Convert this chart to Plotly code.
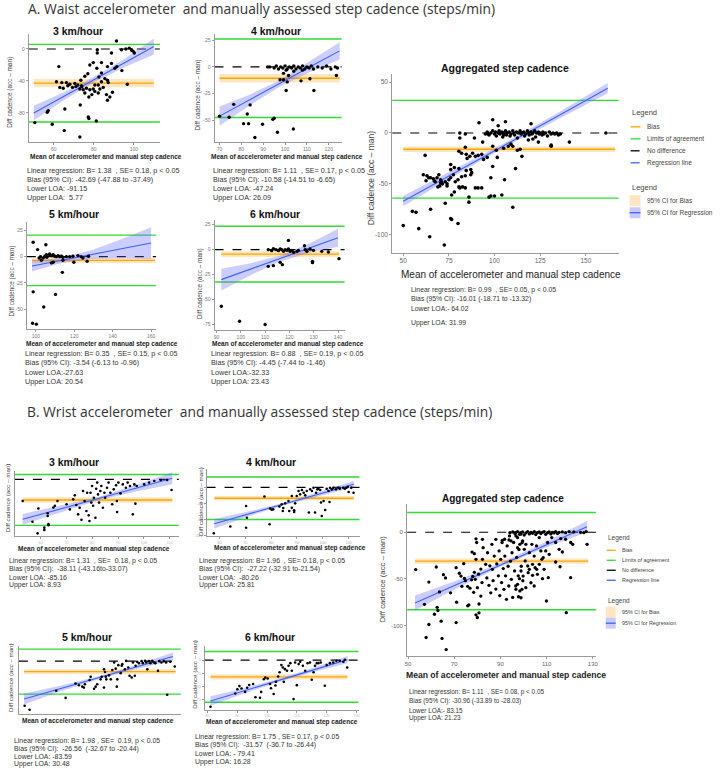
import plotly.graph_objects as go

# ===================== DATA =====================
# ---- A. Waist, 3 km/hour ----
a3_points = [(91.3, 10), (97.7, 1), (98.8, -1), (99.7, -3), (100.2, -5), (96, 0), (93.8, -1), (88.8, -5), (81.7, -1), (81.7, -5),
             (79.7, -17), (83.8, -17), (81.5, -24), (83.8, -30), (86.8, -22), (90.5, -24), (91.5, -22), (94, -27), (62.5, -22), (77, -31),
             (75.5, -34), (73.5, -39), (70.5, -43), (72, -45), (69.3, -48), (67, -46), (64.7, -49), (63, -48), (61.3, -41), (64, -42),
             (66.3, -42), (73.8, -46), (73, -50), (74.7, -51), (76.3, -49), (78, -51), (79.7, -50), (80.5, -53), (82.2, -55), (83, -50),
             (84.7, -48), (82.2, -45), (83.8, -41), (86.8, -39), (87.2, -42), (79, -57), (77.5, -60), (75.5, -55), (80.5, -45), (82.5, -35),
             (85.5, -37), (86.3, -57), (88, -60), (86.8, -64), (89.3, -54), (96.7, -44), (73.2, -70), (65.5, -75), (57.2, -77), (56.7, -79),
             (77.2, -85), (77.5, -87), (81.2, -90), (50.5, -92), (59.2, -94), (65.2, -102), (73, -110), (88.8, -18), (78, -20), (99, -2),
             (71, -47), (74, -47), (68, -44)]
a3_bias = -42.69
a3_bias_ci = [-47.88, -37.49]
a3_loa = [-91.15, 5.77]
a3_bias_span = [50, 110]
a3_reg_x = [50, 65, 80, 95, 110]
a3_reg_y = [-80, -59, -38.5, -18, 3]
a3_reg_lo = [-89, -64, -42, -23, -7]
a3_reg_hi = [-71, -54, -35, -13, 13]
a3_stats = ["Linear regression: B= 1.38  , SE= 0.18, p < 0.05", "Bias (95% CI): -42.69 (-47.88 to -37.49)",
            "Lower LOA: -91.15", "Upper LOA:  5.77"]

# ---- A. Waist, 4 km/hour ----
a4_points = [(93, 0), (95, -1), (96, 1), (97, -2), (98, 0), (99, -1), (100, 1), (101, -2), (102, 0), (103, -1), (104, 1), (105, -2),
             (106, 0), (107, -1), (108, 1), (109, -2), (110, 0), (111, -1), (112, 1), (113, -2), (115, 0), (117, -1), (119, 1), (121, -2),
             (123, 0), (124, -1), (100.5, -3), (104, -4), (108, -3), (92, 0),
             (99.3, -6), (101.6, -8), (97.7, -12), (99.3, -12), (101, -14), (107.3, -13), (111.4, -11), (123.5, -8), (100.5, -22),
             (113.2, -22), (84, -35.5), (95, -48), (94.4, -49), (89.7, -53.6), (96.5, -61), (103.8, -58), (86.2, -66), (70, -46),
             (74.4, -47), (76.5, -35), (82.7, -44), (81, -53), (83.3, -53)]
a4_bias = -10.58
a4_bias_ci = [-14.51, -6.65]
a4_loa = [-47.24, 26.09]
a4_bias_span = [70, 125]
a4_reg_x = [70, 83.75, 97.5, 111.25, 125]
a4_reg_y = [-46, -31, -15.5, 0, 15]
a4_reg_lo = [-55, -36, -18.5, -5, 7]
a4_reg_hi = [-37, -26, -12.5, 5, 23]
a4_stats = ["Linear regression: B= 1.11  , SE= 0.17, p < 0.05", "Bias (95% CI): -10.58 (-14.51 to -6.65)",
            "Lower LOA: -47.24", "Upper LOA: 26.09"]

# ---- A. Waist, aggregated ----
aagg_points = [(50, -91), (55, -77), (57, -78), (58.5, -94), (64.5, -102), (65, -75), (72.5, -110), (73, -69), (76, -84), (76.5, -85),
               (80, -89), (86, -68), (86, -63), (97, -63), (98, -62), (100, -62), (104, -61), (110, -73),
               (61, -41), (63, -42), (64, -44), (65, -44), (66.5, -45), (62.5, -47), (67, -47), (68.5, -44), (69.5, -41), (70.5, -46),
               (71, -48), (70.5, -49), (71.5, -50), (73, -48), (74, -50), (75, -46), (74, -52), (70, -52), (69, -53), (67.5, -48),
               (76, -44), (77.5, -41), (76, -36), (78, -34), (76, -31), (80.5, -35), (78.5, -48), (80.5, -53), (81, -54), (82.5, -53),
               (84, -54), (80, -46), (82, -43), (84, -42), (84.5, -37), (87, -36), (87.5, -39), (87, -41), (89.5, -54), (91, -54),
               (93, -54), (76.5, -61), (78, -58), (62, -22),
               (80.5, -18), (82, -20), (84, -14), (84.5, -21), (85, -25), (86.5, -23), (88, -20), (89.5, -23), (91, -22), (93, -21),
               (94, -26), (96, -24), (98, -44), (99, -33), (101.5, -24), (105.5, -46), (111.5, -35), (115, -23), (114, -16), (112.5, -17),
               (110, -13), (109, -11), (107.5, -13), (105, -15), (101, -17), (99, -13), (131, -12), (131, -13), (141, -9), (124, -9),
               (121, -6), (118.5, -7),
               (81, 0), (81, -5), (89, -5), (91.5, 10), (99, 13), (102, 7), (106, 11), (120, 9), (93.5, -9), (96.5, -1), (105, -2), (84, -1),
               (95, -1), (96, 1), (97, -2), (98, 0), (99, 2), (100, -1), (100.5, 1), (101, -3), (102, 0), (102.5, 2), (103, -1), (104, 1),
               (104.5, -4), (105, 0), (106, 2), (106.5, -2), (107, 0), (108, 1), (108.5, -3), (109, -1), (110, 2), (110.5, 0), (111, -2),
               (112, 1), (112.5, -5), (113, 0), (114, 2), (114.5, -1), (115, 0), (116, 1), (116.5, -3), (117, -1), (118, 2), (118.5, 0),
               (119, -2), (120, 1), (120.5, -1), (121, 0), (122, 2), (122.5, -4), (123, 0), (124, 1), (124.5, -1), (125, 0), (126, -2),
               (126.5, 1), (127, -1), (128, 0), (129, -3), (130, 1), (131, -1), (132, 0), (133, -1), (134, 0), (135, -2), (136, -1), (161, 0)]
aagg_bias = -16.01
aagg_bias_ci = [-18.71, -13.32]
aagg_loa = [-64.02, 31.99]
aagg_bias_span = [50, 166]
aagg_reg_x = [50, 78, 106, 134, 162]
aagg_reg_y = [-67, -39, -11.5, 16, 44]
aagg_reg_lo = [-72, -42, -13.5, 13, 39]
aagg_reg_hi = [-62, -36, -9.5, 19, 49]
aagg_stats = ["Linear regression: B= 0.99  , SE= 0.05, p < 0.05", "Bias (95% CI): -16.01 (-18.71 to -13.32)",
              "Lower LOA:- 64.02", "Upper LOA: 31.99"]

# ---- A. Waist, 5 km/hour ----
a5_points = [(98.6, 13.7), (100.9, 6.7), (105.2, 11.4), (102.4, 0), (103.8, -1.3), (104.7, 0.3), (105.5, 1.9), (106.4, 1), (107.2, 2.5),
             (108.1, 1), (109, 1.9), (109.8, 0.3), (110.7, 0), (111.6, 1), (112.4, 0), (113.3, 0.3), (114.1, -0.6), (115.9, 0), (117.6, 0),
             (119.3, 0.3), (121.9, 1), (123.6, 0), (124.5, -1.3), (127.4, 0.3), (126.7, -4.4), (102.9, -3.5), (108.1, -6), (114.1, -3.5),
             (113.8, -15), (119.8, -5.4), (109, -5.4), (98.6, -33.6), (110.2, -36), (104.1, -48), (98.3, -63.5), (100.3, -64.4),
             (101.7, -1.3), (105.7, -0.6)]
a5_bias = -3.54
a5_bias_ci = [-6.13, -0.96]
a5_loa = [-27.63, 20.54]
a5_bias_span = [98, 162]
a5_reg_x = [98, 113.5, 129, 144.5, 160]
a5_reg_y = [-9, -3.5, 2, 7.5, 13]
a5_reg_lo = [-14, -6, -2, -1.5, -2]
a5_reg_hi = [-4, -1, 6, 16.5, 28]
a5_stats = ["Linear regression: B= 0.35  , SE= 0.15, p < 0.05", "Bias (95% CI): -3.54 (-6.13 to -0.96)",
            "Lower LOA:-27.63", "Upper LOA: 20.54"]

# ---- A. Waist, 6 km/hour ----
a6_points = [(92, -56.7), (99.5, -71.7), (111.3, 0), (112.7, -1), (113.4, 1), (114.5, 0), (115.5, -1), (116.2, 0.7), (116.9, 0),
             (117.6, -1.7), (118.3, 0), (119, -0.7), (119.6, 0.7), (120.3, -1.7), (121, -0.7), (121.7, -2.7), (123.1, -1.7), (123.7, -0.7),
             (126.5, 0), (127.2, -1.7), (128.5, 0.7), (129.9, -0.7), (133.3, -1.7), (136, -2.3), (119.6, 9.3), (126.2, 4), (111.3, -16.7),
             (113.4, -16), (116.2, -12.7), (117.1, -15), (129.5, -11.7), (129.5, -13), (140.4, -9), (110, -75)]
a6_bias = -4.45
a6_bias_ci = [-7.44, -1.46]
a6_loa = [-32.33, 23.43]
a6_bias_span = [92, 140.5]
a6_reg_x = [92, 104, 116, 128, 140]
a6_reg_y = [-30, -19.5, -9, 1.5, 12]
a6_reg_lo = [-41, -25.5, -12, -3, 3]
a6_reg_hi = [-19, -13.5, -6, 6, 21]
a6_stats = ["Linear regression: B= 0.88  , SE= 0.19, p < 0.05", "Bias (95% CI): -4.45 (-7.44 to -1.46)",
            "Lower LOA:-32.33", "Upper LOA: 23.43"]

# ---- B. Wrist, 3 km/hour ----
b3_points = [(53, -40), (56.8, -78.4), (58.8, -100), (59.1, -54), (61.4, -89.5), (61.4, -93.8), (63, -83), (63, -85), (62.7, -68),
             (62.7, -63), (64.9, -52), (65.5, -49), (66.5, -40), (70, -46), (71.3, -55.6), (72.6, -37), (73.2, -29.6), (73.8, -47.5),
             (74.5, -64.8), (75.1, -52.5), (75.8, -75), (76.4, -21.6), (77, -40), (77.7, -58.6), (78, -24.7), (78.6, -66.7), (78.9, -77),
             (79.3, -24.7), (79.6, -43), (79.9, -12.3), (80.3, -49), (80.6, -34), (81.2, -71), (81.5, -17.3), (81.9, -6), (82.2, -27.8),
             (82.6, -43), (83.1, -21.6), (83.5, -12.3), (84.1, -52.5), (84.7, -24.7), (85, -34), (85.7, -15.4), (86.3, -6), (87, -24.7),
             (87.7, -46), (88.3, -18.5), (89.2, -11), (89.5, -40), (89.6, -60.5), (90.1, -6), (90.9, -25.9), (91.8, -9.3), (93, -15.4),
             (93.7, -6), (94.6, -12.3), (95.7, -64.8), (96.3, -9.3), (96.7, -45), (97.2, -12.3), (100.1, -9.3), (102, -6), (104, -3),
             (106.5, -1.2), (109, -1.2), (110.7, -19.8)]
b3_bias = -38.11
b3_bias_ci = [-43.16, -33.07]
b3_loa = [-85.16, 8.93]
b3_bias_span = [53, 111]
b3_reg_x = [53, 67.5, 82, 96.5, 111]
b3_reg_y = [-74, -55, -36, -17, 2]
b3_reg_lo = [-84, -61, -39, -23, -9]
b3_reg_hi = [-64, -49, -33, -11, 13]
b3_stats = ["Linear regression: B= 1.31  , SE=  0.18, p < 0.05", "Bias (95% CI):  -38.11 (-43.16to-33.07)",
            "Lower LOA: -85.16", "Upper LOA: 8.93"]

# ---- B. Wrist, 4 km/hour ----
b4_points = [(57.8, -115), (64.2, -98), (70.3, -46.7), (70.3, -101), (70.6, -76), (79.4, -92.5), (77.4, -23), (79.6, -53), (80.2, -56),
             (80.8, -55), (83.2, -48), (84.1, -42.5), (84.5, -59), (84.7, -51.7), (85.4, -40), (86.7, -34), (87, -59), (88, -51),
             (88, -21.7), (88.9, -57.5), (88.9, -61.7), (89.3, -40), (89.9, -21.7), (90.6, -9), (91.2, -17.5), (91.9, -6.7), (92.6, -13.3),
             (93.2, -20), (93.8, -9), (94.6, -63), (95.1, -5), (95.8, -9), (96.4, -0.8), (97, -63), (97.4, -13.3), (97.9, -5), (98.3, -3.3),
             (99, -6.7), (99.6, -71.7), (99.3, -38), (100.3, -34), (100.9, -56.7), (101.5, -3.3), (102.2, -9), (102.6, -36.7), (102.8, -0.8),
             (103.5, -5), (104.1, -0.8), (105.1, -5), (106, -0.8), (106.6, -3.3), (107.9, -0.8), (108.5, -3.3), (109.1, -0.8), (109.7, 1.7),
             (110, -11.7), (111, -0.8), (111.9, -13.3)]
b4_bias = -27.22
b4_bias_ci = [-32.91, -21.54]
b4_loa = [-80.26, 25.81]
b4_bias_span = [58, 112]
b4_reg_x = [58, 71.5, 85, 98.5, 112]
b4_reg_y = [-91, -66, -41.5, -17, 8]
b4_reg_lo = [-103, -72, -44.5, -22, 0]
b4_reg_hi = [-79, -60, -38.5, -12, 16]
b4_stats = ["Linear regression: B= 1.96  , SE= 0.18, p < 0.05", "Bias (95% CI):  -27.22 (-32.91 to-21.54)",
            "Lower LOA:  -80.26", "Upper LOA: 25.81"]

# ---- B. Wrist, aggregated ----
bagg_points = [(53.3, -40), (59, -53.5), (57.1, -77.4), (57.8, -113), (59, -99), (61.4, -88), (62.6, -80.6), (62.9, -84), (63.6, -64),
               (62.2, -37.3), (64.3, -95.4), (64.7, -114), (65.3, -45.5), (66.5, -126), (66.2, -49), (68.4, -65), (70.8, -38), (70.8, -97),
               (71, -75), (72.2, -44), (72.9, -47), (73.3, -58), (74.1, -33.7), (74.4, -49.5), (74.8, -52), (75.8, -79), (76.3, -78),
               (75.8, -58), (76.8, -60), (77.5, -51), (78, -47.5), (78.4, -64.5), (78.7, -43), (79.1, -50.5), (79.4, -29), (79.7, -11),
               (79.4, -7), (78.7, -23), (77.7, -21.3), (79.4, -88.6), (80, -91.5), (80.7, -77), (80.7, -86.5), (80, -59.5), (80.5, -45),
               (81.5, -39.5), (81.5, -68.5), (82, -54), (82.2, -29), (82.5, -16.5), (82.2, -7.6),
               (83.6, -34.4), (84.1, -49), (84.4, -22), (85, -57), (85.4, -36), (85.8, -65), (86.3, -12.9), (86.5, -39.8), (86.8, -52),
               (87.3, -25.5), (88, -61), (88, -7.6), (88.4, -34), (89.1, -46.8), (89.4, -20), (89.7, -68), (90.1, -29), (90.5, -54),
               (90.8, -8.6), (91.2, -39), (91.5, -61.3), (91.9, -25.5), (92.2, -46.8), (92.6, -72), (92.9, -14.7), (93.3, -36.5),
               (93.6, -57.7), (93.9, -3.9), (94.3, -31), (94.7, -50.5), (95, -22), (95.3, -70), (95.7, -11), (96.1, -41.5), (96.4, -0.4),
               (96.6, -57.7), (97, -27), (97.4, -5.7), (97.7, -46.8), (98, -18.5), (98.4, -63), (98.8, -2), (99, -36.5), (99.4, -11),
               (99.7, -52),
               (94.1, -0.4), (95.3, 0.4), (96.3, -1.4), (97.4, 0.8), (98.2, -2.2), (98.9, -0.4), (99.6, 0.4), (100.3, -2.9), (101, -0.7),
               (101.8, 0.8), (102.5, -1.8), (103.2, 0), (103.9, -1.1), (104.6, 0.8), (105.3, -2.5), (106, -0.4), (106.8, 0.4), (107.5, -1.4),
               (108.2, 0), (108.9, 0.8), (109.6, -2.2), (110.4, -0.4), (111.1, 0.4), (111.8, -1.8), (112.5, 0), (113.2, -0.7), (113.9, 0.8),
               (114.7, -1.4), (115.4, 0), (116.8, 0.4), (118.2, -0.4), (119.7, 0.8), (121.8, 0.4), (124.7, 0), (126.1, -0.4), (127.1, 0.8),
               (90.7, -11), (91.8, -7.5), (93.7, -8.2), (94.6, -9.3), (96.7, -3.9), (97.4, -16.5), (98.4, -12.9), (99.6, -9.3), (100.3, -18.3),
               (101, -12.9), (102.5, -21.9), (103.6, -12.9), (104.6, -25.5), (105.6, -14.7), (106.8, -5.7), (107.5, -20), (108.5, -27.2),
               (109.6, -20), (110.4, -11), (111.1, -23.7), (112.2, -5.7), (113.9, -11), (115.4, -18.3), (116.1, -6.8), (116.8, -21.2),
               (118.2, -7.5), (120.4, -11), (121.3, -12.9), (127.5, -12.9), (109.9, -73.8), (110.7, -48.7), (113.9, -31.9), (115.8, -37),
               (118.5, -86.3), (120.4, -48.7), (108.2, -49.8), (106, -45.2), (105, -38), (103.9, -34.4), (102.5, -39.8), (101.8, -36.2),
               (100.7, -30.8), (99.8, -47), (98.9, -41.6), (98.2, -49.8), (97.4, -55.9), (96.7, -61.3), (97.8, -69.2), (98.9, -70.3),
               (99.3, -61.3), (101, -59.5), (103.2, -54.2), (104.6, -57.7), (105.7, -39.8), (106.8, -34.4), (107.9, -29), (108.9, -39.8),
               (103.9, -46.2), (102, -43.4)]
bagg_bias = -30.96
bagg_bias_ci = [-33.89, -28.03]
bagg_loa = [-83.15, 21.23]
bagg_bias_span = [53, 128]
bagg_reg_x = [53, 71.5, 90, 108.5, 127.5]
bagg_reg_y = [-76, -55.5, -35, -14.5, 6]
bagg_reg_lo = [-84, -59.5, -37, -17.5, 0]
bagg_reg_hi = [-68, -51.5, -33, -11.5, 12]
bagg_stats = ["Linear regression: B= 1.11  , SE= 0.08, p < 0.05", "Bias (95% CI): -30.96 (-33.89 to -28.03)",
              "Lower LOA:- 83.15", "Upper LOA: 21.23"]

# ---- B. Wrist, 5 km/hour ----
b5_points = [(52.2, -113), (54.1, -123), (67.9, -93), (64.3, -75), (71.7, -56.5), (73, -61), (74.3, -64.5), (75.3, -58.6), (74.9, -67),
             (77.5, -39.3), (77.1, -47.7), (78.8, -70), (79.4, -64.5), (80, -58.6), (81.3, -46), (81.7, -39.3), (82.6, -20.7), (83, -27.4),
             (83.3, -39.3), (83.5, -46), (82.6, -67), (84.5, -35.9), (85.2, -46), (85.8, -22.4), (86.5, -3.4), (87.1, -18.9), (87.5, -64.5),
             (88.1, -10.1), (89, -30.4), (89.6, -7.6), (90.6, -20.7), (91.1, 0.8), (91.9, -16), (92.4, -37.1), (93.2, -41.3), (93.7, -3.4),
             (94.4, -37.1), (94.7, -11.8), (95.3, -1.7), (96, -5), (97, 0), (97.5, -5), (98.3, 0.8), (98.8, -3.4), (99.2, -20.7), (99.8, 0),
             (100.4, -5), (101.1, 0.8), (101.7, -3.4), (102.3, -5), (103.3, -24.5), (103.8, 0), (104.6, -3.4), (105.5, 0), (106.4, -3.4),
             (106.8, -85), (108, -1.7), (109.7, -13.5), (89.4, -11.8), (87.7, -46)]
b5_bias = -26.56
b5_bias_ci = [-32.67, -20.44]
b5_loa = [-83.59, 30.48]
b5_bias_span = [52, 110]
b5_reg_x = [52, 66, 80.5, 95, 109]
b5_reg_y = [-96, -69, -42, -15, 12]
b5_reg_lo = [-110, -76, -46, -20, 2]
b5_reg_hi = [-82, -62, -38, -10, 22]
b5_stats = ["Linear regression: B= 1.98 , SE=  0.19, p < 0.05", "Bias (95% CI):  -26.56  (-32.67 to -20.44)",
            "Lower LOA: -83.59", "Upper LOA: 30.48"]

# ---- B. Wrist, 6 km/hour ----
b6_points = [(81, -88), (89.3, -63), (90, -55), (90.7, -49), (91.4, -53.5), (92.6, -60), (93.3, -52), (94, -47), (95.3, -45), (96.1, -70),
             (97.6, -71), (98, -60), (98.9, -36), (99.4, -33), (100.2, -34.6), (101, -45), (101.3, -53), (102.2, -64), (103, -41),
             (103.7, -31), (104.2, -23), (104.8, -9.4), (105.3, -13.8), (106, -17), (106.7, -20), (107.2, -10.7), (107.8, -5.7), (108.3, -20),
             (108.9, -73.6), (109.4, -4.4), (110, -47.2), (110.6, -7.5), (111.1, -3.1), (112, -10.7), (112.8, -20), (113.6, -5.7),
             (114.4, -4.4), (115, -37), (115.6, -23), (116.1, -10.7), (116.7, -5.7), (117.2, -5.7), (118, -4.4), (119.4, -48.4), (120, -9.4),
             (121.1, -5.7), (122.2, -4.4), (123.3, -1.3), (124.4, -1.3), (125.6, -3.1), (126.1, 0.6), (126.9, -13.8), (105.6, -41), (102.8, -48)]
b6_bias = -31.57
b6_bias_ci = [-36.7, -26.44]
b6_loa = [-79.41, 16.28]
b6_bias_span = [81, 127]
b6_reg_x = [81, 92.5, 104, 115.5, 127]
b6_reg_y = [-77, -57.5, -38, -18.5, 1]
b6_reg_lo = [-86, -62.5, -41, -22.5, -6]
b6_reg_hi = [-68, -52.5, -35, -14.5, 8]
b6_stats = ["Linear regression: B= 1.75 , SE= 0.17, p < 0.05", "Bias (95% CI):  -31.57  (-36.7 to -26.44)",
            "Lower LOA: - 79.41", "Upper LOA: 16.28"]

panel_titles = {"a3": "3 km/hour", "a4": "4 km/hour", "aagg": "Aggregated step cadence", "a5": "5 km/hour", "a6": "6 km/hour",
                "b3": "3 km/hour", "b4": "4 km/hour", "bagg": "Aggregated step cadence", "b5": "5 km/hour", "b6": "6 km/hour"}
title_a = "A. Waist accelerometer  and manually assessed step cadence (steps/min)"
title_b = "B. Wrist accelerometer  and manually assessed step cadence (steps/min)"
x_title = "Mean of accelerometer and manual step cadence"
y_title = "Diff cadence (acc \u2013 man)"
legend_lines = ["Bias", "Limits of agreement", "No difference", "Regression line"]
legend_fills = ["95% CI for Bias", "95% CI for Regression"]

data = {
    "a3": (a3_points, a3_bias, a3_bias_ci, a3_loa, a3_bias_span, a3_reg_x, a3_reg_y, a3_reg_lo, a3_reg_hi, a3_stats),
    "a4": (a4_points, a4_bias, a4_bias_ci, a4_loa, a4_bias_span, a4_reg_x, a4_reg_y, a4_reg_lo, a4_reg_hi, a4_stats),
    "aagg": (aagg_points, aagg_bias, aagg_bias_ci, aagg_loa, aagg_bias_span, aagg_reg_x, aagg_reg_y, aagg_reg_lo, aagg_reg_hi, aagg_stats),
    "a5": (a5_points, a5_bias, a5_bias_ci, a5_loa, a5_bias_span, a5_reg_x, a5_reg_y, a5_reg_lo, a5_reg_hi, a5_stats),
    "a6": (a6_points, a6_bias, a6_bias_ci, a6_loa, a6_bias_span, a6_reg_x, a6_reg_y, a6_reg_lo, a6_reg_hi, a6_stats),
    "b3": (b3_points, b3_bias, b3_bias_ci, b3_loa, b3_bias_span, b3_reg_x, b3_reg_y, b3_reg_lo, b3_reg_hi, b3_stats),
    "b4": (b4_points, b4_bias, b4_bias_ci, b4_loa, b4_bias_span, b4_reg_x, b4_reg_y, b4_reg_lo, b4_reg_hi, b4_stats),
    "bagg": (bagg_points, bagg_bias, bagg_bias_ci, bagg_loa, bagg_bias_span, bagg_reg_x, bagg_reg_y, bagg_reg_lo, bagg_reg_hi, bagg_stats),
    "b5": (b5_points, b5_bias, b5_bias_ci, b5_loa, b5_bias_span, b5_reg_x, b5_reg_y, b5_reg_lo, b5_reg_hi, b5_stats),
    "b6": (b6_points, b6_bias, b6_bias_ci, b6_loa, b6_bias_span, b6_reg_x, b6_reg_y, b6_reg_lo, b6_reg_hi, b6_stats),
}

# ===================== LAYOUT / STYLE =====================
W, H = 720, 770
FONT = "Liberation Sans, Arial, sans-serif"
TITLE_FONT = "Open Sans, Liberation Sans, Arial, sans-serif"
GREEN = "#2fdc2f"
ORANGE = "#ffa500"
ORANGE_BAND = "rgba(255,190,90,0.38)"
BLUE = "#3366ff"
BLUE_BAND = "rgba(100,100,255,0.33)"


def fx(p):
    return p / W


def fy(p):
    return 1 - p / H


# dom = (left, right, top, bottom) in pixels
layout_spec = {
    "a3": dict(dom=(27, 159, 34, 142), xr=(47.5, 113), yr=(-116, 18.75), xt=[60, 80, 100], yt=[0, -40, -80],
               tfs=5, tcol="#777", ms=3.4, title=(77, 31, 10.5), xtitle=(105, 157, 6.5, True), ytitle=(8, 92, 6.4),
               stats=(23, [171, 180, 189, 198], 7.2)),
    "a4": dict(dom=(214, 342, 34, 142), xr=(67.7, 125.9), yr=(-70, 30.8), xt=[70, 80, 90, 100, 110, 120], yt=[25, 0, -25, -50],
               tfs=5, tcol="#777", ms=3.4, title=(276, 31, 10.5), xtitle=(287, 157, 6.5, True), ytitle=(197, 95, 6.4),
               stats=(210, [171, 180, 189, 198], 7.2)),
    "aagg": dict(dom=(393, 621, 74, 253), xr=(44, 168), yr=(-117.6, 58), xt=[50, 75, 100, 125, 150], yt=[-100, -50, 0, 50],
                 tfs=6.5, tcol="#666", ms=3.6, title=(507, 68, 10.5), xtitle=(513, 275, 10, False), ytitle=(371, 178, 8.5),
                 stats=(410, [290, 299, 309, 323], 6.85)),
    "a5": dict(dom=(25, 155, 222, 329), xr=(95.3, 162.5), yr=(-68.6, 33.3), xt=[100, 120, 140, 160], yt=[25, 0, -25, -50],
               tfs=5, tcol="#777", ms=3.4, title=(73, 214, 10.5), xtitle=(101, 344, 6.5, True), ytitle=(10, 281, 6.4),
               stats=(21, [354, 363, 373, 382], 7.2)),
    "a6": dict(dom=(214, 345, 220, 330), xr=(89.2, 142.7), yr=(-80, 30), xt=[90, 100, 110, 120, 130, 140], yt=[25, 0, -25, -50, -75],
               tfs=5, tcol="#777", ms=3.4, title=(275, 214, 10.5), xtitle=(288, 344, 6.5, True), ytitle=(199, 284, 6.4),
               stats=(208, [354, 363, 373, 382], 7.2)),
    "b3": dict(dom=(13, 178, 472, 537), xr=(50, 113.5), yr=(-105.5, 14.8), xt=[60, 70, 80, 90, 100, 110], yt=[],
               tfs=4, tcol="#bbb", ms=2.6, title=(73, 463, 10.5), xtitle=(93, 550, 6.5, True), ytitle=(5, 498, 6.2),
               stats=(5, [562, 570, 578, 586], 6.9)),
    "b4": dict(dom=(206, 360, 470, 537), xr=(55, 114.2), yr=(-122.5, 45), xt=[60, 70, 80, 90, 100, 110], yt=[0, -40, -80, -120],
               tfs=4, tcol="#aaa", ms=2.6, title=(271, 463, 10.5), xtitle=(290, 549, 6.5, True), ytitle=(200, 502, 6.2),
               stats=(196, [562, 570, 578, 586], 6.9)),
    "bagg": dict(dom=(408, 598, 505, 657), xr=(49.6, 131.3), yr=(-133, 30), xt=[50, 70, 90, 110, 130], yt=[0, -50, -100],
                 tfs=6, tcol="#666", ms=3.3, title=(505, 499, 10), xtitle=(508, 676, 8.6, True), ytitle=(383, 580, 7.8),
                 stats=(408, [693, 702, 711, 719], 6.4)),
    "b5": dict(dom=(17, 180, 647, 715), xr=(50, 112), yr=(-134, 38), xt=[], yt=[],
               tfs=4, tcol="#bbb", ms=2.6, title=(86, 638, 10.5), xtitle=(97, 722, 6.5, True), ytitle=(8, 678, 6.2),
               stats=(10, [742, 750, 757, 765], 6.9)),
    "b6": dict(dom=(204, 359, 647, 711), xr=(79, 130.7), yr=(-94.3, 26.4), xt=[80, 90, 100, 110, 120, 130], yt=[0, -25, -50, -75],
               tfs=3.5, tcol="#bbb", ms=2.6, title=(270, 638, 10.5), xtitle=(282, 723, 6.5, True), ytitle=(193, 675, 6.2),
               stats=(192, [738, 746, 754, 763], 6.9)),
}

fig = go.Figure()
annotations = []
shapes = []


def ann(text, x, y, size, color="#333", xanchor="center", angle=0, bold=False, family=FONT):
    annotations.append(dict(text=f"<b>{text}</b>" if bold else text, x=fx(x), y=fy(y), xref="paper", yref="paper",
                            xanchor=xanchor, yanchor="middle", showarrow=False, textangle=angle,
                            font=dict(family=family, size=size, color=color)))


for i, key in enumerate(layout_spec, start=1):
    spec = layout_spec[key]
    pts, bias, bias_ci, loa, span, rx, ry, rlo, rhi, stats = data[key]
    xa = "x" if i == 1 else f"x{i}"
    ya = "y" if i == 1 else f"y{i}"
    l, r, t, b = spec["dom"]
    axis_common = dict(showgrid=False, zeroline=False, showline=True, linecolor="#9a9a9a", linewidth=1,
                       ticks="outside", ticklen=2, tickcolor="#9a9a9a", tickwidth=1, fixedrange=True,
                       tickmode="array", ticklabeloverflow="allow",
                       tickfont=dict(family=FONT, size=spec["tfs"], color=spec["tcol"]))
    fig.layout[f"xaxis{'' if i == 1 else i}"] = dict(axis_common, domain=[fx(l), fx(r)], range=list(spec["xr"]), anchor=ya,
                                                    tickvals=spec["xt"], ticktext=[str(v) for v in spec["xt"]],
                                                    showticklabels=bool(spec["xt"]))
    fig.layout[f"yaxis{'' if i == 1 else i}"] = dict(axis_common, domain=[fy(b), fy(t)], range=list(spec["yr"]), anchor=xa,
                                                    tickvals=spec["yt"], ticktext=[str(v) for v in spec["yt"]],
                                                    showticklabels=bool(spec["yt"]))

    # horizontal reference lines across the panel
    for val, col, dash, wdt in [(loa[0], GREEN, "solid", 1.4), (loa[1], GREEN, "solid", 1.4), (0, "black", "dash", 1.1)]:
        shapes.append(dict(type="line", xref=f"{xa} domain", yref=ya, x0=0, x1=1, y0=val, y1=val, layer="below",
                           line=dict(color=col, width=wdt, dash=dash)))

    # bias CI band + bias line
    fig.add_trace(go.Scatter(x=[span[0], span[1], span[1], span[0]], y=[bias_ci[0], bias_ci[0], bias_ci[1], bias_ci[1]],
                             fill="toself", fillcolor=ORANGE_BAND, line=dict(width=0), mode="lines",
                             xaxis=xa, yaxis=ya, hoverinfo="skip", showlegend=False))
    fig.add_trace(go.Scatter(x=span, y=[bias, bias], mode="lines", line=dict(color=ORANGE, width=1.4),
                             xaxis=xa, yaxis=ya, hoverinfo="skip", showlegend=False))
    # regression CI band + line
    fig.add_trace(go.Scatter(x=list(rx) + list(rx)[::-1], y=list(rhi) + list(rlo)[::-1], fill="toself",
                             fillcolor=BLUE_BAND, line=dict(width=0), mode="lines",
                             xaxis=xa, yaxis=ya, hoverinfo="skip", showlegend=False))
    fig.add_trace(go.Scatter(x=rx, y=ry, mode="lines", line=dict(color=BLUE, width=1.1),
                             xaxis=xa, yaxis=ya, hoverinfo="skip", showlegend=False))
    # points
    px_, py_ = zip(*pts)
    fig.add_trace(go.Scatter(x=list(px_), y=list(py_), mode="markers", marker=dict(color="black", size=spec["ms"]),
                             xaxis=xa, yaxis=ya, showlegend=False))

    # texts
    tx, ty, ts = spec["title"]
    ann(panel_titles[key], tx, ty, ts, color="#111", bold=True)
    xx, xy, xs, xb = spec["xtitle"]
    ann(x_title, xx, xy, xs, color="#222", bold=xb)
    yx, yy, ys = spec["ytitle"]
    ann(y_title, yx, yy, ys, color="#444", angle=-90)
    sx, sys_, ss = spec["stats"]
    for line_txt, yy_ in zip(stats, sys_):
        ann(line_txt, sx, yy_, ss, color="#333", xanchor="left")

# main titles
ann(title_a, 24, 9, 13.8, color="#333", xanchor="left", family=TITLE_FONT)
ann(title_b, 23, 412, 13.8, color="#333", xanchor="left", family=TITLE_FONT)


# legends (decoration)
def draw_legend(x0, y_head1, ys_lines, y_head2, ys_fill, fs_head, fs_item, sw, gap):
    ann("Legend", x0, y_head1, fs_head, color="#444", xanchor="left")
    styles = [(ORANGE, "solid"), (GREEN, "solid"), ("black", "dash"), (BLUE, "dash")]
    for (col, dash), yy, label in zip(styles, ys_lines, legend_lines):
        shapes.append(dict(type="line", xref="paper", yref="paper", x0=fx(x0 + 1), x1=fx(x0 + 1 + sw), y0=fy(yy), y1=fy(yy),
                           line=dict(color=col, width=1.3, dash=dash)))
        ann(label, x0 + 1 + sw + gap, yy, fs_item, color="#444", xanchor="left")
    ann("Legend", x0, y_head2, fs_head, color="#444", xanchor="left")
    for k, (yy, label) in enumerate(zip(ys_fill, legend_fills)):
        fill = "rgba(255,200,120,0.45)" if k == 0 else "rgba(120,120,255,0.4)"
        shapes.append(dict(type="rect", xref="paper", yref="paper", x0=fx(x0), x1=fx(x0 + sw + 1), y0=fy(yy + 5.5),
                           y1=fy(yy - 5.5), line=dict(width=0), fillcolor=fill))
        if k == 1:
            shapes.append(dict(type="line", xref="paper", yref="paper", x0=fx(x0), x1=fx(x0 + sw + 1), y0=fy(yy), y1=fy(yy),
                               line=dict(color=BLUE, width=1.3)))
        ann(label, x0 + 1 + sw + gap, yy, fs_item, color="#444", xanchor="left")


draw_legend(632, 113, [127, 139, 151, 163], 188, [201, 213], 7.5, 6.5, 10, 4)
draw_legend(608, 539, [551, 561, 571, 581], 602, [613, 624], 6.5, 5.4, 9, 4)

fig.update_layout(width=W, height=H, margin=dict(l=0, r=0, t=0, b=0), paper_bgcolor="white", plot_bgcolor="white",
                  showlegend=False, annotations=annotations, shapes=shapes, font=dict(family=FONT))
fig.write_html("out.html")
